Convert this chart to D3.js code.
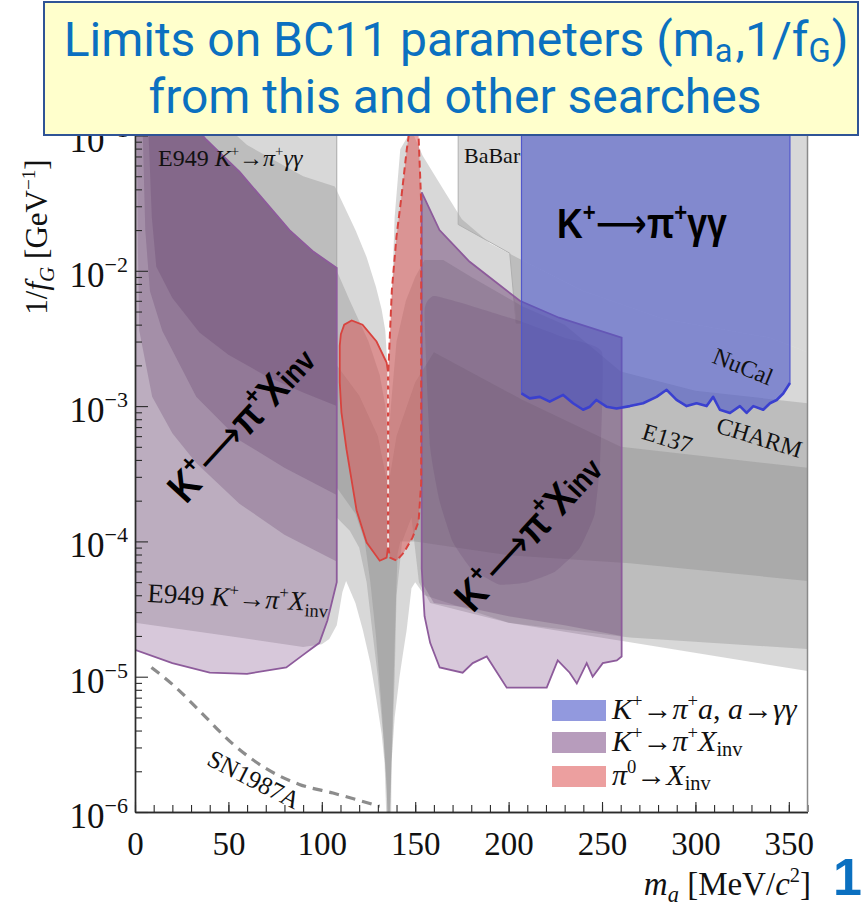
<!DOCTYPE html>
<html>
<head>
<meta charset="utf-8">
<script src="https://cdn.jsdelivr.net/npm/d3@7/dist/d3.min.js"></script>
<style>
html,body{margin:0;padding:0;background:#ffffff;}
svg{display:block;}
</style>
</head>
<body>
<svg id="chart" width="862" height="909"></svg>
<script>
// ---------------- DATA (m_a in MeV/c^2, 1/f_G in GeV^-1) ----------------
const xTickValues = [0, 50, 100, 150, 200, 250, 300, 350];
const xTickLabels = ['0', '50', '100', '150', '200', '250', '300', '350'];
const yTickValues = [1e-6, 1e-5, 1e-4, 1e-3, 1e-2, 1e-1];
const yTickExponents = ['−6', '−5', '−4', '−3', '−2', '−1'];

// E949 K+ -> pi+ gamma gamma box (part above the purple region)
const e949GammaGammaBox = [[25,0.2],[108,0.2],[108,0.0105],[95,0.014],[82.7,0.02],[70,0.032],[55.9,0.054],[47,0.071],[38.2,0.093],[30,0.125]];
// BaBar region: left edge; the lower edge continues along the outer beam-dump edge
const babarEdge = [[360,0.2],[173,0.2],[173,0.022],[200.6,0.0135],[204,0.0041],[207,0.0041]];

// beam-dump bands (upper / lower edges)
const bandA_upper = [[0,0.63],[30,0.2],[60,0.085],[90,0.05],[107,0.042],[112,0.030],[118,0.020],[124,0.0126],[129,0.0076],[132,0.0052],[134,0.0036],[135.5,0.0016],[137,0.004],[139,0.025],[142,0.079],[148,0.11],[154,0.071],[165,0.04],[175,0.024],[190,0.016],[207,0.012],[240,0.0071],[283,0.0044],[340,0.0032],[360,0.0025]];
const bandA_lower = [[0,2.5e-5],[50,2.0e-5],[90,1.66e-5],[100,1.74e-5],[104,1.9e-5],[108,2.4e-5],[111,4.2e-5],[113,5.1e-5],[118,3.5e-5],[122,2.2e-5],[126,1.26e-5],[129,7.1e-6],[132,3.8e-6],[133.6,2.3e-6],[134.7,8e-7],[137.1,8e-7],[137.3,2.3e-6],[139,5e-6],[141.6,1e-5],[143.5,1.5e-5],[145.4,2.2e-5],[148,4.5e-5],[150,5e-5],[155,4e-5],[200,2.5e-5],[265,1.8e-5],[360,1.1e-5]];
const bandB_upper = [[108,0.01],[115,0.006],[125,0.003],[131,0.0017],[134,0.001],[135.5,5e-4],[137,0.001],[140,0.003],[145,0.006],[150,0.009],[155,0.012],[165,0.012],[180,0.009],[207,0.0055],[230,0.004],[260,0.0018],[300,0.0013],[360,0.00105]];
const bandB_lower = [[108,1.5e-4],[115,1.2e-4],[120,9e-5],[124,5e-5],[127,2.2e-5],[130,1e-5],[133,3.5e-6],[134.8,1.4e-6],[135.3,8e-7],[136.4,8e-7],[137.5,2.5e-6],[139,1e-5],[140,4e-5],[143,1e-4],[148,1.5e-4],[152,5e-5],[158,3.5e-5],[200,2.5e-5],[265,1.95e-5],[360,1.6e-5]];
const bandC_upper = [[108,0.002],[120,0.0012],[130,6e-4],[135.5,2.5e-4],[140,6e-4],[150,0.0015],[160,0.0025],[207,0.00112],[260,5e-4],[360,3.5e-4]];
const bandC_lower = [[108,2.5e-4],[118,1.6e-4],[123,1.0e-4],[126,5e-5],[129,2e-5],[132,6e-6],[134.5,1.8e-6],[135.4,8e-7],[136.2,8e-7],[137.5,3e-6],[138.5,1e-5],[139.5,3e-5],[140.5,8e-5],[142,1e-4],[150,1e-4],[200,7.9e-5],[265,6.9e-5],[360,5.1e-5]];

// K+ -> pi+ X_inv (left, E949): top line and bottom line
const kpiLeftTop = [[0,0.2],[30,0.125],[38.2,0.093],[47,0.071],[55.9,0.054],[70,0.032],[82.7,0.02],[95,0.014],[108,0.0105]];
const kpiLeftBottom = [[108,5.0e-5],[103,2.6e-5],[98.7,1.78e-5],[90,1.45e-5],[81,1.17e-5],[60,1.05e-5],[40,1.07e-5],[20,1.26e-5],[0,1.58e-5]];
// inner contours inside the left region
const kpiLeftInner1 = [[1.0,0.126],[1.5,0.0158],[2.3,0.0036],[9.2,0.00117],[20,6.3e-4],[32.8,3.8e-4],[55.9,1.9e-4],[80,1.12e-4],[108,7.1e-5]];
const kpiLeftInner2 = [[4,0.126],[5.5,0.02],[8,0.0071],[14.6,0.0036],[32.8,0.00117],[55.9,5.6e-4],[80,3.5e-4],[108,2.2e-4]];
const kpiLeftInner3 = [[7,0.126],[9,0.025],[11.4,0.0107],[20,0.0063],[34.5,0.0035],[50,0.0024],[70.4,0.00166],[90,0.00126],[108,0.001]];

// K+ -> pi+ X_inv (right)
const kpiRightTop = [[153.5,0.038],[163,0.02],[179,0.0117],[206,0.006],[227,0.0045],[260.5,0.0032]];
const kpiRightBottom = [[260.5,1.41e-5],[257.9,1.32e-5],[250.4,1.26e-5],[245,1e-5],[241.8,1.26e-5],[236.5,8.9e-6],[232.7,1.07e-5],[226.3,1.32e-5],[220.4,8.3e-6],[211.3,8.3e-6],[199,8.3e-6],[188.3,1.41e-5],[180.8,1.26e-5],[175.4,1.07e-5],[163.1,1.17e-5],[158,1.78e-5],[155,2.8e-5],[153.5,6.3e-5]];
const kpiRightInner = [[153.5,5e-5],[160,3.5e-5],[180,3.2e-5],[200,2.8e-5],[230,2.4e-5],[260.5,2e-5]];
const kpiRightBowl = [[155,0.005],[158,5e-4],[163,2e-4],[170,1e-4],[180,6.3e-5],[195,4.8e-5],[210,5e-5],[225,6e-5],[238,8.9e-5],[246,1.58e-4],[249,4e-4],[250,0.0025],[230,0.0032],[207,0.0042],[180,0.0055],[160,0.0065]];

// pi0 -> X_inv
const pi0LeftLobe = [[135.4,0.0018],[134.7,0.0021],[129.3,0.003],[121.8,0.004],[116,0.0043],[112,0.0040],[110.2,0.0034],[109.6,0.0028],[109.6,0.0015],[110.5,0.0009],[113.2,4.8e-4],[118.6,1.7e-4],[124,9.8e-5],[131,7.2e-5],[134.7,7.6e-5],[135.4,9e-5]];
const pi0RightSpike = [[135.6,9e-5],[135.6,0.0018],[137.5,0.0072],[140,0.018],[142.6,0.035],[145.5,0.079],[147.5,0.126],[151.5,0.126],[153.2,0.032],[153.2,2.7e-4],[151.8,1.4e-4],[148.6,1.07e-4],[144,8.3e-5],[140,7.2e-5],[136.5,7.6e-5]];
const pi0CenterLine = [[135.5,9e-5],[135.5,0.0018]];

// K+ -> pi+ a, a -> gamma gamma (this search): lower edge
const kpiGGBottom = [[206.9,1.24e-3],[211.3,1.14e-3],[216.7,1.17e-3],[222,1.08e-3],[229.2,1.21e-3],[234.5,1.05e-3],[239.9,9.4e-4],[243.5,9.9e-4],[247,1.11e-3],[252.4,9.9e-4],[257.8,9.6e-4],[264.9,1.0e-3],[272,1.05e-3],[279.2,1.17e-3],[284.6,1.32e-3],[289.9,1.11e-3],[295.3,1.0e-3],[300.6,1.05e-3],[306,1.0e-3],[309.5,1.17e-3],[313.1,9.4e-4],[318.5,8.9e-4],[323.8,1.0e-3],[327.4,8.9e-4],[331,1.0e-3],[336.3,9.4e-4],[339.9,1.05e-3],[343.5,1.11e-3],[347,1.24e-3],[350.6,1.48e-3]];
const kpiGGTop = 0.2;

// SN1987A
const sn1987a = [[8.8,1.17e-5],[22,8.3e-6],[34.5,5.6e-6],[52.2,3.2e-6],[70,2.1e-6],[88,1.6e-6],[106,1.38e-6],[131,1.1e-6]];

const legendKeys = ['kpiGG', 'kpiInv', 'pi0Inv'];
const titleLines = ['Limits on BC11 parameters', 'from this and other searches'];

// ---------------- SETUP ----------------
const W = 862, H = 909;
const plot = {left: 135, right: 807.5, top: 135.5, bottom: 812};
const x = d3.scaleLinear().domain([0, 360]).range([plot.left, plot.right]);
const y = d3.scaleLog().domain([1e-6, 1e-1]).range([plot.bottom, plot.top]);
const svg = d3.select('#chart');
svg.append('rect').attr('width', W).attr('height', H).attr('fill', '#ffffff');
svg.append('defs').append('clipPath').attr('id', 'clip').append('rect')
  .attr('x', plot.left).attr('y', plot.top - 2).attr('width', plot.right - plot.left).attr('height', plot.bottom - plot.top + 2);
const g = svg.append('g').attr('clip-path', 'url(#clip)');
const lineGen = d3.line().x(d => x(d[0])).y(d => y(d[1]));
const poly = pts => lineGen(pts) + 'Z';
const band = (up, lo) => up.concat(lo.slice().reverse());

const serif = "'Liberation Serif','Times New Roman',serif";
const sans = "'Liberation Sans',Arial,sans-serif";

// ---------------- GREY (other experiments) ----------------
const greyFill = '#7f7f7f', greyOp = 0.3;
const babarBox = babarEdge.concat(bandA_upper.filter(d => d[0] >= 207));
[e949GammaGammaBox, babarBox, band(bandA_upper, bandA_lower), band(bandB_upper, bandB_lower), band(bandC_upper, bandC_lower)]
  .forEach(p => g.append('path').attr('d', poly(p)).attr('fill', greyFill).attr('fill-opacity', greyOp));
g.append('path').attr('d', lineGen([[108,0.2],[108,0.0105]])).attr('fill','none').attr('stroke','#a8a8a8').attr('stroke-width',1);
g.append('path').attr('d', lineGen(babarEdge.slice(1))).attr('fill','none').attr('stroke','#b0b0b0').attr('stroke-width',1);

// ---------------- PURPLE (K+ -> pi+ X_inv) ----------------
const purpleFill = '#7b4a85', purpleOp = 0.3;
const overlayFill = '#5a3764', overlayOp = 0.25;
const purpleStroke = '#8d5b9b';
const leftRegion = kpiLeftTop.concat(kpiLeftBottom);
g.append('path').attr('d', poly(leftRegion)).attr('fill', purpleFill).attr('fill-opacity', purpleOp);
[kpiLeftInner1, kpiLeftInner2, kpiLeftInner3].forEach(c => {
  const topPart = kpiLeftTop.filter(d => d[0] > c[0][0]).reverse();
  g.append('path').attr('d', poly(c.concat(topPart))).attr('fill', overlayFill).attr('fill-opacity', overlayOp);
});
const rightRegion = kpiRightTop.concat(kpiRightBottom);
g.append('path').attr('d', poly(rightRegion)).attr('fill', purpleFill).attr('fill-opacity', purpleOp);
g.append('path').attr('d', poly(kpiRightInner.concat(kpiRightTop.slice().reverse()))).attr('fill', overlayFill).attr('fill-opacity', overlayOp);
g.append('path').attr('d', d3.line().x(d => x(d[0])).y(d => y(d[1])).curve(d3.curveCardinalClosed.tension(0.6))(kpiRightBowl))
  .attr('fill', overlayFill).attr('fill-opacity', 0.18);
g.append('path').attr('d', poly(leftRegion)).attr('fill', 'none').attr('stroke', purpleStroke).attr('stroke-width', 1.8);
g.append('path').attr('d', poly(rightRegion)).attr('fill', 'none').attr('stroke', purpleStroke).attr('stroke-width', 1.8);

// ---------------- RED (pi0 -> X_inv) ----------------
const redFill = '#dc5050', redOp = 0.5, redStroke = '#d8433e';
g.append('path').attr('d', poly(pi0LeftLobe)).attr('fill', redFill).attr('fill-opacity', redOp)
  .attr('stroke', redStroke).attr('stroke-width', 1.8);
g.append('path').attr('d', poly(pi0RightSpike)).attr('fill', redFill).attr('fill-opacity', redOp)
  .attr('stroke', redStroke).attr('stroke-width', 2).attr('stroke-dasharray', '7,4');
g.append('path').attr('d', lineGen(pi0CenterLine)).attr('fill', 'none')
  .attr('stroke', '#f2e4e4').attr('stroke-width', 2).attr('stroke-dasharray', '5,4');

// ---------------- BLUE (this search) ----------------
const blueFill = '#4a55c8', blueOp = 0.6;
const bluePoly = [[kpiGGBottom[0][0], kpiGGTop], [kpiGGBottom[kpiGGBottom.length-1][0], kpiGGTop]]
  .concat(kpiGGBottom.slice().reverse());
g.append('path').attr('d', poly(bluePoly)).attr('fill', blueFill).attr('fill-opacity', blueOp)
  .attr('stroke', '#5157cc').attr('stroke-width', 1.2);
g.append('path').attr('d', lineGen(kpiGGBottom)).attr('fill', 'none')
  .attr('stroke', '#3a40cf').attr('stroke-width', 2.6).attr('stroke-linejoin', 'round');

// ---------------- SN1987A ----------------
g.append('path').attr('d', d3.line().x(d => x(d[0])).y(d => y(d[1])).curve(d3.curveMonotoneX)(sn1987a))
  .attr('fill', 'none').attr('stroke', '#8c8c8c').attr('stroke-width', 3.2).attr('stroke-dasharray', '10,7');

// ---------------- AXES ----------------
const axisColor = '#2b2b2b';
function styleAxis(sel) {
  sel.selectAll('path.domain').attr('stroke', axisColor).attr('stroke-width', 1.4);
  sel.selectAll('.tick line').attr('stroke', axisColor).attr('stroke-width', 1.1);
}
const xMinor = d3.range(0, 361, 10);
svg.append('g').attr('transform', `translate(0,${plot.bottom})`)
  .call(d3.axisBottom(x).tickValues(xMinor).tickSize(-7).tickSizeOuter(0).tickFormat(''))
  .call(styleAxis);
const xAx = svg.append('g').attr('transform', `translate(0,${plot.bottom})`)
  .call(d3.axisBottom(x).tickValues(xTickValues).tickSize(-10).tickSizeOuter(0).tickPadding(20)
    .tickFormat((d, i) => xTickLabels[i]))
  .call(styleAxis);
xAx.selectAll('text').attr('font-family', serif).attr('font-size', 33).attr('fill', '#111');

const yMinor = [];
yTickValues.slice(0, -1).forEach(d => { for (let k = 2; k <= 9; k++) yMinor.push(d * k); });
svg.append('g').attr('transform', `translate(${plot.left},0)`)
  .call(d3.axisLeft(y).tickValues(yMinor).tickSize(-7).tickSizeOuter(0).tickFormat(''))
  .call(styleAxis);
svg.append('g').attr('transform', `translate(${plot.left},0)`)
  .call(d3.axisLeft(y).tickValues(yTickValues).tickSize(-13).tickSizeOuter(0).tickFormat(''))
  .call(styleAxis);
svg.append('line').attr('x1', plot.right).attr('x2', plot.right).attr('y1', plot.top).attr('y2', plot.bottom)
  .attr('stroke', '#8a8a8a').attr('stroke-width', 1.5);

// rich-text helper
function rich(t, segs, size, subOff) {
  let cur = 0;
  segs.forEach(s => {
    let off = 0, fs = size;
    if (s.sup) { off = -size * 0.4; fs = size * 0.62; }
    if (s.sub) { off = size * (subOff || 0.22); fs = size * 0.68; }
    if (s.fs) fs = size * s.fs;
    const ts = t.append('tspan').text(s.t).attr('font-size', fs).attr('dy', off - cur);
    if (s.dx) ts.attr('dx', s.dx);
    cur = off;
    if (s.i) ts.attr('font-style', 'italic');
    if (s.f) ts.attr('font-family', s.f);
    if (s.w) ts.attr('font-weight', s.w);
  });
  return t;
}
function label(x0, y0, rot, size, segs, opts = {}) {
  const sx = opts.sx || 1;
  const t = svg.append('text').attr('transform', `translate(${x0},${y0}) rotate(${rot}) scale(${sx},1)`)
    .attr('font-family', opts.family || serif).attr('font-size', size)
    .attr('fill', opts.fill || '#111').attr('text-anchor', opts.anchor || 'start');
  if (opts.weight) t.attr('font-weight', opts.weight);
  rich(t, segs, size, opts.subOff);
  return t;
}

// y tick labels
yTickValues.forEach((d, i) => {
  const t = svg.append('text').attr('x', 128).attr('y', y(d) + 16).attr('text-anchor', 'end')
    .attr('font-family', serif).attr('fill', '#111');
  t.append('tspan').text('10').attr('font-size', 35);
  t.append('tspan').text(yTickExponents[i]).attr('font-size', 22).attr('dy', -15);
});

// axis titles
label(811, 895, 0, 33, [{t:'m', i:1}, {t:'a', i:1, sub:1}, {t:' [MeV/'}, {t:'c', i:1}, {t:'2', sup:1}, {t:']'}], {anchor:'end'});
label(47, 237, -90, 31, [{t:'1/'}, {t:'f', i:1}, {t:'G', i:1, sub:1}, {t:' [GeV'}, {t:'−1', sup:1}, {t:']'}], {anchor:'middle'});

// ---------------- ANNOTATIONS ----------------
const NB = '\u00A0';
label(158, 166, 0, 24, [{t:'E949' + NB}, {t:'K', i:1}, {t:'+', sup:1}, {t:'→'}, {t:'π', i:1}, {t:'+', sup:1}, {t:'γγ', i:1}]);
label(464, 163, 0, 22, [{t:'BaBar'}]);
label(740, 374, 22, 24, [{t:'NuCal'}], {anchor:'middle'});
label(757, 445, 17, 24, [{t:'CHARM'}], {anchor:'middle'});
label(665, 446, 17, 24, [{t:'E137'}], {anchor:'middle'});
label(147, 602, 3, 27, [{t:'E949' + NB}, {t:'K', i:1}, {t:'+', sup:1}, {t:'→'}, {t:'π', i:1}, {t:'+', sup:1}, {t:'X', i:1}, {t:'inv', sub:1}]);
label(250, 787, 27, 25, [{t:'SN1987A'}], {anchor:'middle'});

// big bold labels
const arrowFont = "'DejaVu Sans',sans-serif";
label(557, 238, 0, 42, [{t:'K'}, {t:'+', sup:1}, {t:'⟶', f: arrowFont, w: 'normal'}, {t:'π'}, {t:'+', sup:1}, {t:'γγ'}], {family: sans, weight: 'bold', fill: '#000', sx: 0.85});
label(186, 505, -47.5, 42, [{t:'K'}, {t:'+', sup:1}, {t:'⟶', f: arrowFont, w: 'normal'}, {t:'π'}, {t:'+', sup:1}, {t:'X'}, {t:'inv', fs:0.74}], {family: sans, weight: 'bold', fill: '#000', sx: 0.86});
label(473, 614, -47.5, 42, [{t:'K'}, {t:'+', sup:1}, {t:'⟶', f: arrowFont, w: 'normal'}, {t:'π'}, {t:'+', sup:1}, {t:'X'}, {t:'inv', fs:0.74}], {family: sans, weight: 'bold', fill: '#000', sx: 0.86});

// ---------------- LEGEND ----------------
const legendStyle = {
  kpiGG: {fill: blueFill, op: 0.6, segs: [{t:'K', i:1}, {t:'+', sup:1}, {t:'→'}, {t:'π', i:1}, {t:'+', sup:1}, {t:'a', i:1}, {t:', '}, {t:'a', i:1}, {t:'→'}, {t:'γγ', i:1}]},
  kpiInv: {fill: purpleFill, op: 0.55, segs: [{t:'K', i:1}, {t:'+', sup:1}, {t:'→'}, {t:'π', i:1}, {t:'+', sup:1}, {t:'X', i:1}, {t:'inv', sub:1}]},
  pi0Inv: {fill: redFill, op: 0.55, segs: [{t:'π', i:1}, {t:'0', sup:1}, {t:'→'}, {t:'X', i:1}, {t:'inv', sub:1}]}
};
const legendY = [700, 732, 766];
legendKeys.forEach((k, i) => {
  const s = legendStyle[k];
  svg.append('rect').attr('x', 552).attr('y', legendY[i]).attr('width', 54).attr('height', 21)
    .attr('fill', s.fill).attr('fill-opacity', s.op);
  label(612, legendY[i] + 19, 0, 30, s.segs, {subOff: 0.18});
});

// ---------------- TITLE BOX ----------------
svg.append('rect').attr('x', 44).attr('y', 2).attr('width', 814).attr('height', 133)
  .attr('fill', '#ffffcc').attr('stroke', '#2f5496').attr('stroke-width', 2);
const titleFont = "Roboto,'DejaVu Sans',sans-serif";
label(456, 56, 0, 48, [{t: titleLines[0] + ' (m'}, {t:'a', sub:1}, {t:',1/f', dx: 3}, {t:'G', sub:1}, {t:')', dx: 1}], {family: titleFont, fill: '#0b70c0', anchor: 'middle', subOff: 0.12});
label(455, 113, 0, 48, [{t: titleLines[1]}], {family: titleFont, fill: '#0b70c0', anchor: 'middle'});

// slide number
svg.append('text').attr('x', 833).attr('y', 895).attr('font-family', sans).attr('font-weight', 'bold')
  .attr('font-size', 52).attr('fill', '#0b70c0').text('1');
</script>
</body>
</html>
